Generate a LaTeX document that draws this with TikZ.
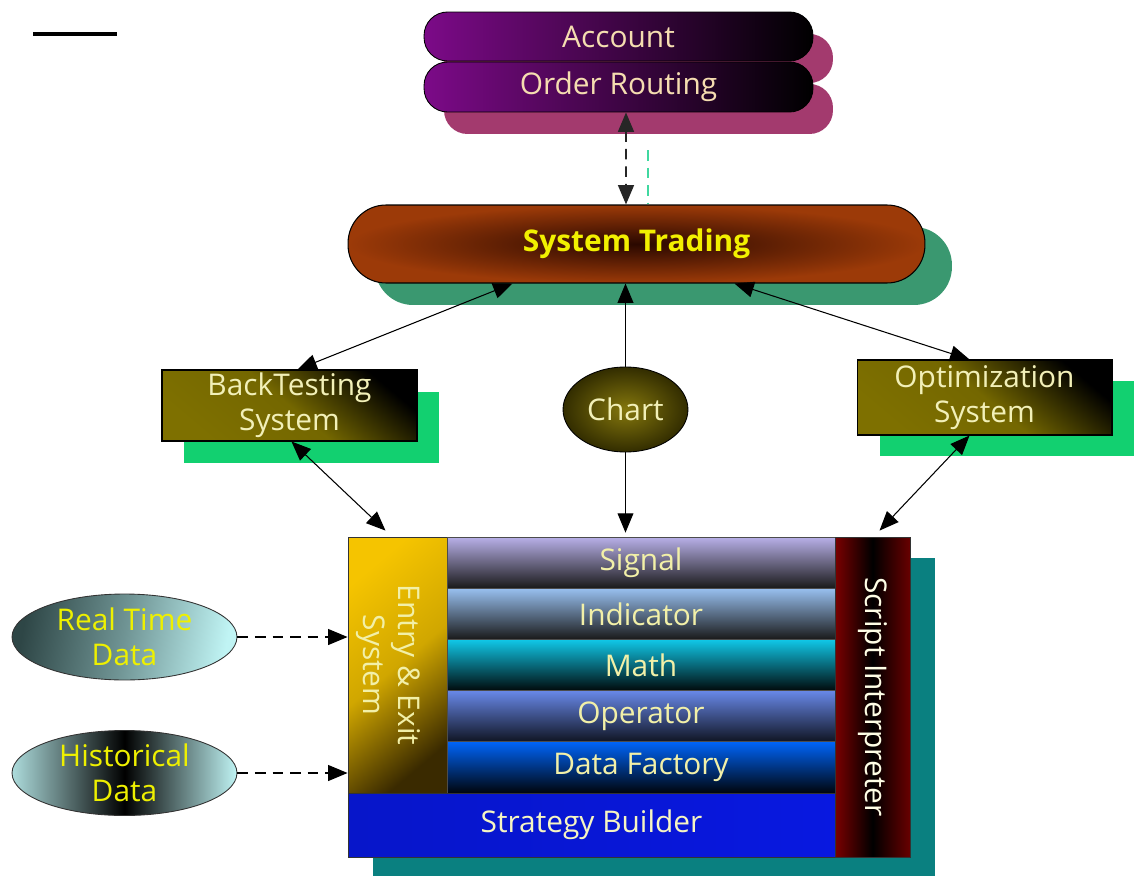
\documentclass[tikz,border=0pt]{standalone}
\usepackage{fontspec}
\setmainfont{Open Sans}
\usetikzlibrary{shadows,calc,arrows.meta,shapes.geometric}
\definecolor{purp}{HTML}{7C0A88}
\definecolor{pillshadow}{HTML}{A33A6E}
\definecolor{peach}{HTML}{F5DDB0}
\definecolor{stedge}{HTML}{9C3A08}
\definecolor{stcenter}{HTML}{2A0800}
\definecolor{stshadow}{HTML}{3A9870}
\definecolor{sttext}{HTML}{F2F000}
\definecolor{olivebox}{HTML}{7E7000}
\definecolor{boxshadow}{HTML}{12D070}
\definecolor{boxtext}{HTML}{F2F0B8}
\definecolor{rowtext}{HTML}{F2F0A8}
\definecolor{gold}{HTML}{F5C400}
\definecolor{golddark}{HTML}{3A2A00}
\definecolor{sigtop}{HTML}{B8B0E8}
\definecolor{indtop}{HTML}{98C0F0}
\definecolor{mathtop}{HTML}{10C8E8}
\definecolor{optop}{HTML}{6888E8}
\definecolor{dftop}{HTML}{0064F8}
\definecolor{sbblue}{HTML}{0818E0}
\definecolor{scriptred}{HTML}{7A0000}
\definecolor{mainshadow}{HTML}{0A8080}
\definecolor{cyanlight}{HTML}{C0F4F4}
\definecolor{cyandark}{HTML}{2E4646}
\definecolor{ellytext}{HTML}{EEF000}
\definecolor{tealdash}{HTML}{40D8A0}
\tikzset{
  base/.style={font=\fontsize{17}{20}\selectfont, align=center, inner sep=0pt},
  pill/.style={base, draw=black, line width=0.5pt, rounded corners=0.47cm,
    minimum width=7.78cm, left color=purp, right color=black, text=peach,
    general shadow={fill=pillshadow, draw=none, shadow xshift=0.4cm, shadow yshift=-0.44cm}},
  stbox/.style={base, font=\fontsize{17}{20}\selectfont\bfseries, draw=black, line width=0.6pt,
    rounded corners=0.76cm, minimum width=11.54cm, minimum height=1.56cm,
    shading=radial, inner color=stcenter, outer color=stedge, text=sttext,
    general shadow={fill=stshadow, draw=none, shadow xshift=0.54cm, shadow yshift=-0.44cm}},
  sysbox/.style={base, draw=black, line width=0.6pt, minimum width=5.1cm,
    top color=black, bottom color=olivebox, middle color=olivebox!92!black, shading angle=-40,
    text=boxtext},
  row/.style={base, draw=black!70, line width=0.4pt, minimum width=7.76cm,
    minimum height=1.024cm, bottom color=black!90, text=rowtext},
  dataelly/.style={base, ellipse, draw=black!80, line width=0.5pt,
    minimum width=4.5cm, text=ellytext},
  tip/.style={},
  arr/.style={-{Triangle[length=11pt,width=9pt]}, line width=0.6pt},
  darr/.style={{Triangle[length=11pt,width=9pt]}-{Triangle[length=11pt,width=9pt]}, line width=0.6pt},
  dasharr/.style={-{Triangle[length=11pt,width=9pt]}, line width=0.7pt, dash pattern=on 6pt off 4pt}
}
\begin{document}
\begin{tikzpicture}[x=0.02cm,y=-0.02cm]
\useasboundingbox (0,0) rectangle (1134,876);

% top-left line
\coordinate (l1) at (33,34);
\coordinate (l2) at (117,34);
\draw[line width=1.8pt] (l1) -- (l2);

% account / order routing
\node[pill, minimum height=0.98cm] (account) at (618.5,36.5) {Account};
\node[pill, minimum height=1.0cm] (order) at (618.5,87) {Order Routing};

% system trading
\node[stbox] (st) at (636.5,244) {System Trading};

% side systems
\node[sysbox, minimum height=1.42cm,
  general shadow={fill=boxshadow, draw=none, shadow xshift=0.44cm, shadow yshift=-0.44cm}]
  (bt) at (289.5,405.5) {BackTesting\\System};
\node[sysbox, minimum height=1.5cm,
  general shadow={fill=boxshadow, draw=none, shadow xshift=0.46cm, shadow yshift=-0.42cm}]
  (opt) at (984.5,397.5) {Optimization\\System};
\node[base, ellipse, draw=black, line width=0.5pt, minimum width=2.5cm, minimum height=1.7cm,
  shading=radial, inner color=olivebox!95!white, outer color=olivebox!40!black, text=boxtext]
  (chart) at (625.5,409.5) {Chart};

% main block
\fill[mainshadow] (373,558) rectangle (935,876);
\node[base, draw=black!80, line width=0.5pt, minimum width=1.98cm, minimum height=5.12cm,
  top color=gold, bottom color=golddark, middle color=gold!85!black, shading angle=40]
  (entry) at (397.5,665) {};
\node[base, rotate=-90, text=rowtext] (entrytxt) at ($(entry.center)+(-9,0)$) {Entry \& Exit\\System};
\node[row, top color=sigtop] (signal) at (641,562.6) {Signal};
\node[row, top color=indtop] (indicator) at (641,613.8) {Indicator};
\node[row, top color=mathtop, bottom color=black!95!mathtop] (math) at (641,665) {Math};
\node[row, top color=optop, bottom color=optop!15!black] (operator) at (641,716.2) {Operator};
\node[row, top color=dftop, bottom color=black!95!dftop] (datafactory) at (641,767.4) {Data Factory};
\node[base, draw=black!80, line width=0.4pt, minimum width=9.74cm, minimum height=1.28cm,
  left color=sbblue!90!black, right color=sbblue, text=rowtext!70!white]
  (sb) at (591.5,825) {Strategy Builder};
\node[base, draw=black!80, line width=0.5pt, minimum width=1.5cm, minimum height=6.4cm,
  left color=scriptred, right color=scriptred!85!black, middle color=black]
  (script) at (872.5,697) {};
\node[base, rotate=-90, text=white!90!yellow] (scripttxt) at (script.center) {Script Interpreter};

% data ellipses
\node[dataelly, minimum height=1.72cm, left color=cyandark, right color=cyanlight,
  middle color=cyanlight!45!cyandark, shading angle=80] (rt) at (124.5,637) {Real Time\\Data};
\node[dataelly, minimum height=1.7cm, left color=cyanlight!90!black, right color=cyanlight,
  middle color=black] (hd) at (124.5,773) {Historical\\Data};

% connectors
\draw[{Triangle[length=11pt,width=9pt]}-{Triangle[length=11pt,width=9pt]}, line width=1.1pt,
  black!85, dash pattern=on 6pt off 4pt]
  ($(order.south)+(7.5,0)$) -- ($(st.north)+(-10.5,0)$);
\coordinate (tealtop) at (648,150);
\draw[tealdash, line width=1pt, dash pattern=on 6pt off 4pt] (tealtop) -- (tealtop |- st.north);

\draw[darr] ($(bt.north)+(8,0)$) -- ($(st.south)+(-124,0)$);
\draw[arr] (chart.north) -- (chart.north |- st.south);
\draw[darr] ($(opt.north)+(-15,0)$) -- ($(st.south)+(98,0)$);

\draw[darr] ($(bt.south)+(2,0)$) -- ($(entry.north)+(-12,-6)$);
\draw[arr] (chart.south) -- ($(chart.south |- signal.north)+(0,-4)$);
\draw[darr] ($(opt.south)+(-15,0)$) -- ($(script.north)+(7,-6)$);

\draw[dasharr] (rt.east) -- (rt.east -| entry.west);
\draw[dasharr] (hd.east) -- (hd.east -| entry.west);
\end{tikzpicture}
\end{document}
